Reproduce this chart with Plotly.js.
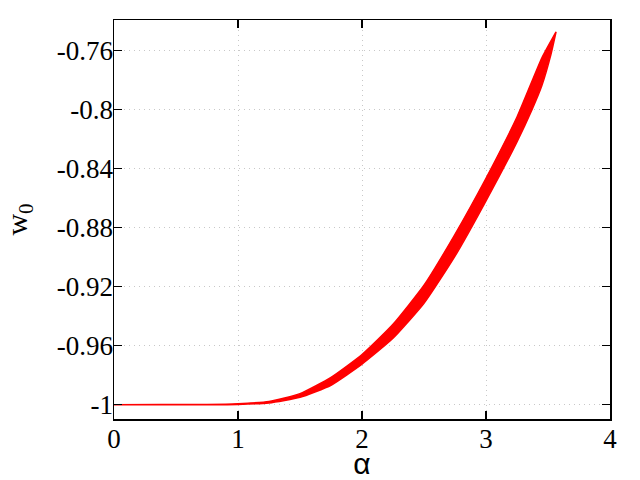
<!DOCTYPE html>
<html>
<head>
<meta charset="utf-8">
<script src="https://cdn.plot.ly/plotly-3.0.1.min.js"></script>
<style>html,body{margin:0;padding:0;background:#fff;}#chart{width:640px;height:480px;}</style>
</head>
<body>
<div id="chart"></div>
<script>
// Upper (left) edge of the band
const alphaUpper = [0, 0.75, 1.0, 1.25, 1.5, 1.75, 2.0, 2.25, 2.5, 2.75, 3.0, 3.25, 3.45, 3.565];
const w0Upper    = [-1.0, -0.9998, -0.9993, -0.9978, -0.9925, -0.9815, -0.9660, -0.9455, -0.9190, -0.8845, -0.8465, -0.8050, -0.7650, -0.7473];
// Lower (right) edge of the band
const alphaLower = [0, 0.75, 1.0, 1.25, 1.5, 1.75, 2.0, 2.25, 2.5, 2.75, 3.0, 3.25, 3.371, 3.45, 3.524, 3.565];
const w0Lower    = [-1.0, -1.0, -0.9998, -0.9988, -0.9950, -0.9868, -0.9725, -0.9550, -0.9313, -0.8993, -0.8618, -0.8218, -0.8000, -0.7838, -0.7625, -0.7473];

const xTicks = [0, 1, 2, 3, 4];
const yTicks = [-1, -0.96, -0.92, -0.88, -0.84, -0.8, -0.76];
const yTickText = ['-1', '-0.96', '-0.92', '-0.88', '-0.84', '-0.8', '-0.76'];

const bandX = alphaUpper.concat(alphaLower.slice().reverse());
const bandY = w0Upper.concat(w0Lower.slice().reverse());

const trace = {
  x: bandX, y: bandY,
  type: 'scatter', mode: 'lines',
  fill: 'toself', fillcolor: '#ff0000',
  line: {color: '#ff0000', width: 1.5, shape: 'spline', smoothing: 0.5},
  hoverinfo: 'skip', showlegend: false
};

const serif = 'Liberation Serif, Times New Roman, serif';
const tickFont = {family: serif, size: 27, color: '#000'};

const layout = {
  width: 640, height: 480,
  margin: {l: 114, r: 30, t: 20, b: 61, pad: 0},
  paper_bgcolor: '#fff', plot_bgcolor: '#fff',
  showlegend: false,
  font: {family: serif, color: '#000'},
  xaxis: {
    range: [0, 4], tickvals: xTicks, ticktext: xTicks.map(String),
    ticks: 'inside', ticklen: 8, tickwidth: 1.5, tickcolor: '#000',
    showline: true, linecolor: '#000', linewidth: 1.5, mirror: 'ticks',
    showgrid: true, gridcolor: '#c8c8c8', griddash: '1px,4px', gridwidth: 1,
    zeroline: false, tickfont: tickFont, ticklabelstandoff: -5,
    automargin: false,
    title: {text: 'α', font: {family: 'Liberation Sans, Arial, sans-serif', size: 30, color: '#000'}, standoff: 6}
  },
  yaxis: {
    range: [-1.0097, -0.7392], tickvals: yTicks, ticktext: yTickText,
    ticks: 'inside', ticklen: 8, tickwidth: 1.5, tickcolor: '#000',
    showline: true, linecolor: '#000', linewidth: 1.5, mirror: 'ticks',
    showgrid: true, gridcolor: '#c8c8c8', griddash: '1px,4px', gridwidth: 1,
    zeroline: false, tickfont: tickFont, ticklabelstandoff: -6,
    automargin: false,
    title: {text: 'w<sub>0</sub>', font: {family: serif, size: 30, color: '#000'}, standoff: 20}
  }
};

Plotly.newPlot('chart', [trace], layout, {displayModeBar: false, staticPlot: true});
</script>
</body>
</html>
